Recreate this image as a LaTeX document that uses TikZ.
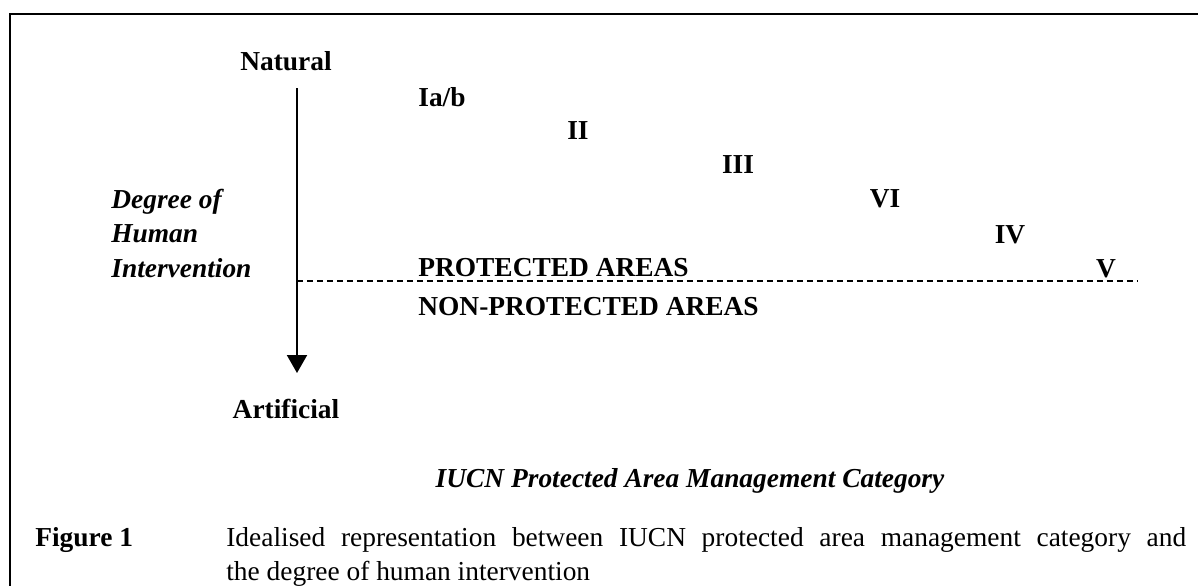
\documentclass[tikz,border=0pt]{standalone}
\usepackage{fontspec}
\setmainfont{Liberation Serif}
\usetikzlibrary{positioning, arrows.meta}

\begin{document}
\begin{tikzpicture}[x=0.02cm, y=-0.02cm, >={Triangle[width=0.4cm, length=0.36cm]},
    every node/.style={inner sep=0pt, font=\fontsize{15.6}{19.5}\selectfont},
    lbl/.style={font=\fontsize{15.6}{19.5}\selectfont\bfseries},
    axis/.style={font=\fontsize{15.6}{19.5}\selectfont\bfseries\itshape},
    frame/.style={line width=0.055cm},
    divide/.style={line width=0.04cm, dash pattern=on 0.12cm off 0.08cm}]
    \useasboundingbox (0,0) rectangle (1198,586);
    % frame (open to the right and below)
    \draw[frame] (1198,14) -- (10,14) -- (10,586);

    % vertical axis
    \node[lbl, anchor=base] (nat) at (286,70) {Natural};
    \node[lbl, anchor=base] (art) at (286,418) {Artificial};
    \coordinate (top) at (297,88);
    \coordinate (bot) at (297,373);
    \draw[->, line width=0.04cm] (top) -- (bot);
    \node[axis, anchor=base west, align=left] (deg) at (111,277)
        {Degree of\\Human\\Intervention};

    % management categories
    \node[lbl, anchor=base west] (c1) at (418,106) {Ia/b};
    \node[lbl, anchor=base] (c2) at (578,139) {II};
    \node[lbl, anchor=base] (c3) at (738,173) {III};
    \node[lbl, anchor=base] (c6) at (885,207) {VI};
    \node[lbl, anchor=base] (c4) at (1010,243) {IV};
    \node[lbl, anchor=base] (c5) at (1106,277) {V};

    % protected / non-protected split
    \coordinate (dl) at (297,281);
    \coordinate (dr) at (1138,281);
    \draw[divide] (dl) -- (dr);
    \node[lbl, anchor=base west] (pa) at (418,276) {PROTECTED AREAS};
    \node[lbl, anchor=base west] (npa) at (418,315) {NON-PROTECTED AREAS};

    \node[axis, anchor=base] (cat) at (690,487) {IUCN Protected Area Management Category};

    % caption
    \node[lbl, anchor=base west] (fig) at (35,546) {Figure 1};
    \node[anchor=base west, text width=19.2cm, align=justify] (cap) at (226,546)
        {Idealised representation between IUCN protected area management category and\linebreak
         the degree of human intervention};
\end{tikzpicture}
\end{document}
